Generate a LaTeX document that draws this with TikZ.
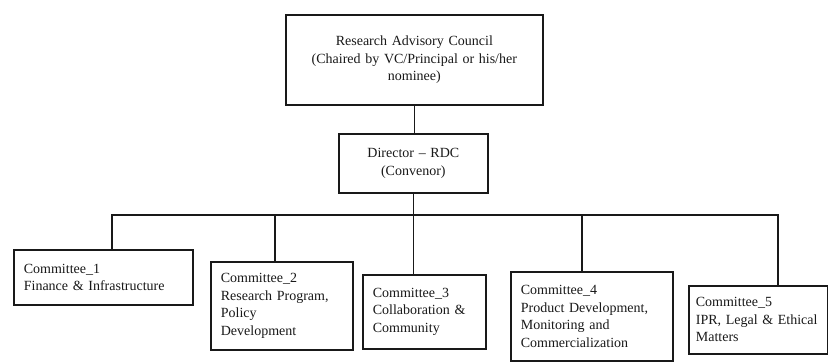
\documentclass[tikz,border=0pt]{standalone}
\usepackage{fontspec}
\setmainfont{Liberation Serif}
\begin{document}
\begin{tikzpicture}[x=1pt,y=-1pt,
  box/.style={draw=black!90, line width=1.7pt, anchor=north west, inner xsep=10pt, inner ysep=2pt,
              font=\fontsize{14}{17.5}\selectfont, align=left, text=black!90},
  cbox/.style={box, align=center},
  link/.style={draw=black!90, line width=1.7pt, line join=miter}]
\useasboundingbox[fill=white] (0,0) rectangle (828,362);

\node[cbox, text width=237pt, minimum height=90pt] (rac) at (285,14)
  {Research Advisory Council\\(Chaired by VC/Principal or his/her\\nominee)};
\node[cbox, text width=129pt, minimum height=59pt] (dir) at (338,133)
  {Director -- RDC\\(Convenor)};

\node[box, text width=159pt, minimum height=55pt] (c1) at (13,249)
  {Committee\_1\\Finance \& Infrastructure};
\node[box, text width=122pt, minimum height=88pt] (c2) at (210,261)
  {Committee\_2\\Research Program,\\Policy\\Development};
\node[box, text width=103pt, minimum height=74pt] (c3) at (362,274)
  {Committee\_3\\Collaboration \&\\Community};
\node[box, text width=142pt, minimum height=89pt] (c4) at (510,271)
  {Committee\_4\\Product Development,\\Monitoring and\\Commercialization};
\node[box, inner xsep=7pt, text width=125pt, minimum height=68pt] (c5) at (688,285)
  {Committee\_5\\IPR, Legal \& Ethical\\Matters};

\coordinate (busL) at (112,215);
\coordinate (busR) at (778,215);
\coordinate (b2) at (275,215);
\coordinate (b4) at (582,215);

\draw[link] (rac.south) -- (rac.south |- dir.north);
\draw[link] (dir.south) -- (dir.south |- c3.north);
\draw[link] (busL |- c1.north) -- (busL) -- (busR) -- (busR |- c5.north);
\draw[link] (b2) -- (b2 |- c2.north);
\draw[link] (b4) -- (b4 |- c4.north);
\end{tikzpicture}
\end{document}
